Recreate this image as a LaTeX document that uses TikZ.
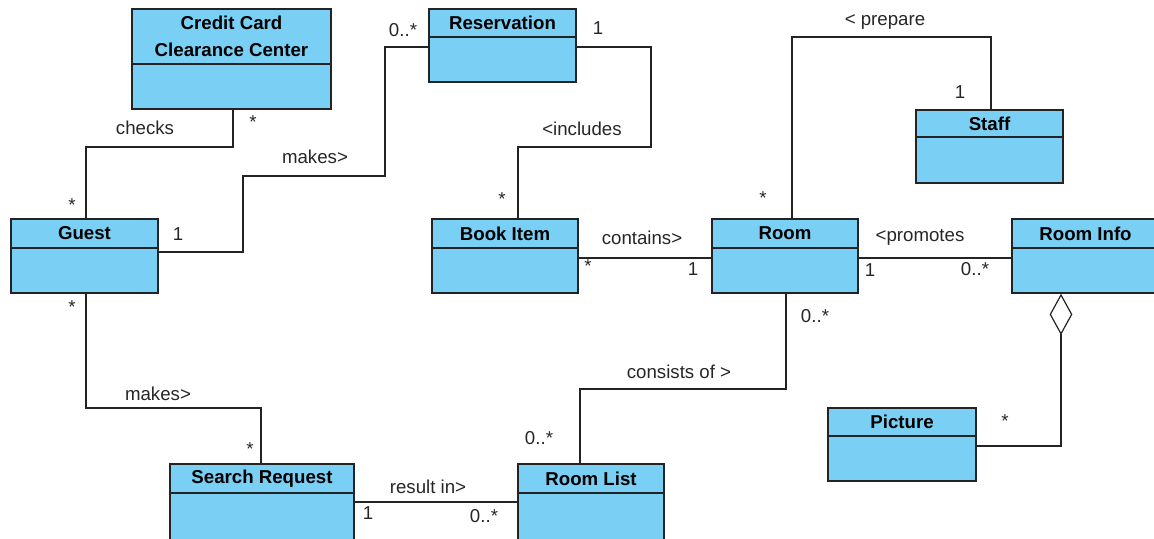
\documentclass[tikz,border=0pt]{standalone}
\usepackage{fontspec}
\setmainfont{Liberation Sans}
\usetikzlibrary{arrows.meta,fit}
\definecolor{clsblue}{RGB}{122,207,245}
\definecolor{clsline}{RGB}{35,35,35}

% class box: name, left, top, right, bottom, divider, title
\newcommand{\umlclass}[7]{%
  \node[cls,fit={(#2,#3) (#4,#5)}] (#1) {};
  \draw[clsline,line width=1.1pt] (#2,#6) -- (#4,#6);
  \node[ctitle] at ({(#2+#4)/2},{(#3+#6)/2}) {#7};
}

\begin{document}
\begin{tikzpicture}[x=0.75pt,y=-0.75pt,font=\fontsize{14}{16}\selectfont,
   cls/.style={draw=clsline,line width=1.1pt,fill=clsblue,inner sep=0pt},
   ctitle/.style={font=\fontsize{14}{20}\selectfont\bfseries,align=center,inner sep=0pt},
   assoc/.style={draw=clsline,line width=0.9pt},
   lbl/.style={inner sep=0pt,text=black!85}]
  \useasboundingbox (0,0) rectangle (1154,539);
  \clip (0,0) rectangle (1154,539);
  % classes
  \umlclass{cc}{132}{9}{331}{109}{64}{Credit Card\\Clearance Center}
  \umlclass{res}{429}{9}{576}{82}{37}{Reservation}
  \umlclass{staff}{916}{110}{1063}{183}{137}{Staff}
  \umlclass{guest}{11}{219}{158}{293}{248}{Guest}
  \umlclass{book}{432}{219}{578}{293}{248}{Book Item}
  \umlclass{room}{712}{219}{858}{293}{248}{Room}
  \umlclass{info}{1012}{219}{1159}{293}{248}{Room Info}
  \umlclass{pic}{828}{408}{976}{481}{436}{Picture}
  \umlclass{search}{170}{464}{354}{540}{493}{Search Request}
  \umlclass{list}{518}{464}{664}{540}{493}{Room List}
  % bends
  \coordinate (c1) at (233,147);  \coordinate (c2) at (86,147);
  \coordinate (m1) at (243,252);  \coordinate (m2) at (385,176);  \coordinate (m3) at (385,47);
  \coordinate (i1) at (651,47);   \coordinate (i2) at (518,147);
  \coordinate (r0) at (650,258);
  \coordinate (p1) at (792,37);   \coordinate (p2) at (991,37);
  \coordinate (s1) at (786,389);  \coordinate (s2) at (580,389);
  \coordinate (g1) at (86,408);   \coordinate (g2) at (261,408);
  \coordinate (q0) at (430,502);
  \coordinate (a1) at (1061,446);
  % associations
  \draw[assoc] (cc.south -| c1) |- (c2) -- (guest.north -| c2);
  \draw[assoc] (guest.east |- m1) -- (m1) |- (m2) |- (res.west |- m3);
  \draw[assoc] (res.east |- i1) -- (i1) |- (i2) -- (book.north -| i2);
  \draw[assoc] (book.east |- r0) -- (room.west |- r0);
  \draw[assoc] (room.north -| p1) -- (p1) -- (p2) -- (staff.north -| p2);
  \draw[assoc] (room.east |- r0) -- (info.west |- r0);
  \draw[assoc] (room.south -| s1) |- (s2) -- (list.north -| s2);
  \draw[assoc] (guest.south -| g1) |- (g2) -- (search.north -| g2);
  \draw[assoc] (search.east |- q0) -- (list.west |- q0);
  \draw[assoc,-{Diamond[open,length=31pt,width=17pt]}] (pic.east |- a1) -| (info.south -| a1);
  % labels and multiplicities
  \node[lbl] at (145,128) {checks};
  \node[lbl] at (253,122) {*};
  \node[lbl] at (72,205)  {*};
  \node[lbl] at (315,157) {makes>};
  \node[lbl] at (178,234) {1};
  \node[lbl] at (403,30)  {0..*};
  \node[lbl] at (598,28)  {1};
  \node[lbl] at (582,129) {<includes};
  \node[lbl] at (502,199) {*};
  \node[lbl] at (642,238) {contains>};
  \node[lbl] at (588,266) {*};
  \node[lbl] at (693,269) {1};
  \node[lbl] at (885,22)  {< prepare};
  \node[lbl] at (960,92)  {1};
  \node[lbl] at (763,198) {*};
  \node[lbl] at (920,237) {<promotes};
  \node[lbl] at (870,270) {1};
  \node[lbl] at (975,269) {0..*};
  \node[lbl] at (815,316) {0..*};
  \node[lbl] at (679,372) {consists of >};
  \node[lbl] at (539,438) {0..*};
  \node[lbl] at (72,307)  {*};
  \node[lbl] at (158,394) {makes>};
  \node[lbl] at (250,449) {*};
  \node[lbl] at (428,487) {result in>};
  \node[lbl] at (368,513) {1};
  \node[lbl] at (484,516) {0..*};
  \node[lbl] at (1005,421) {*};
\end{tikzpicture}
\end{document}
